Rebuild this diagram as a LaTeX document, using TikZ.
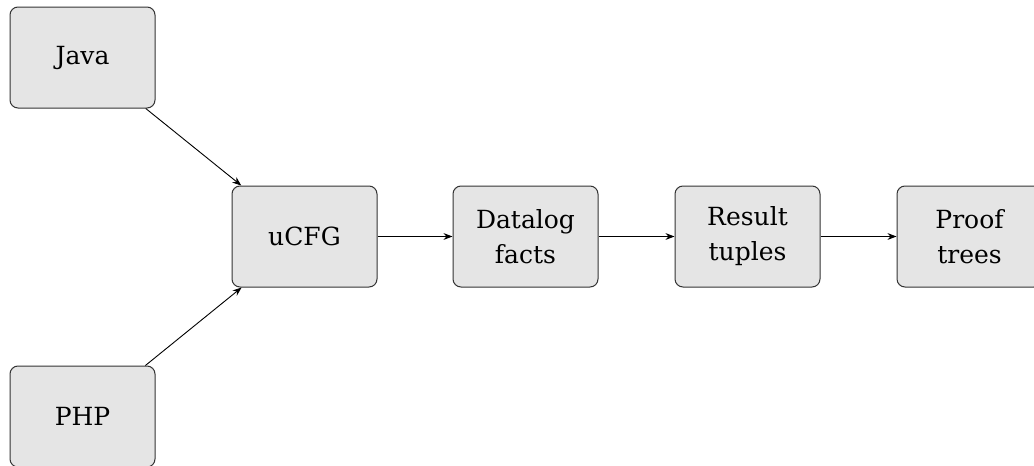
\documentclass[tikz,border=0pt]{standalone}
\usepackage{fontspec}
\setmainfont{DejaVu Serif}
\usetikzlibrary{arrows.meta}
\begin{document}
\begin{tikzpicture}[x=1pt,y=1pt,
  stage/.style={draw=black!80, fill=black!10, rounded corners=4pt,
    minimum width=72.5pt, minimum height=50.5pt, align=center,
    font=\fontsize{12.5}{17.5}\selectfont, line width=0.5pt},
  flow/.style={-{Stealth[length=4.5pt,width=3.4pt]}, line width=0.45pt}]
  \useasboundingbox (0,0) rectangle (517,-233);
  \node[stage] (java) at (41.25,-28.75) {Java};
  \node[stage] (php) at (41.25,-208.25) {PHP};
  \node[stage] (ucfg) at (152.25,-118.25) {uCFG};
  \node[stage] (facts) at (262.75,-118.25) {Datalog\\facts};
  \node[stage] (tuples) at (373.75,-118.25) {Result\\tuples};
  \node[stage] (proofs) at (484.75,-118.25) {Proof\\trees};
  \draw[flow] (java) -- (ucfg);
  \draw[flow] (php) -- (ucfg);
  \draw[flow] (ucfg) -- (facts);
  \draw[flow] (facts) -- (tuples);
  \draw[flow] (tuples) -- (proofs);
\end{tikzpicture}
\end{document}
